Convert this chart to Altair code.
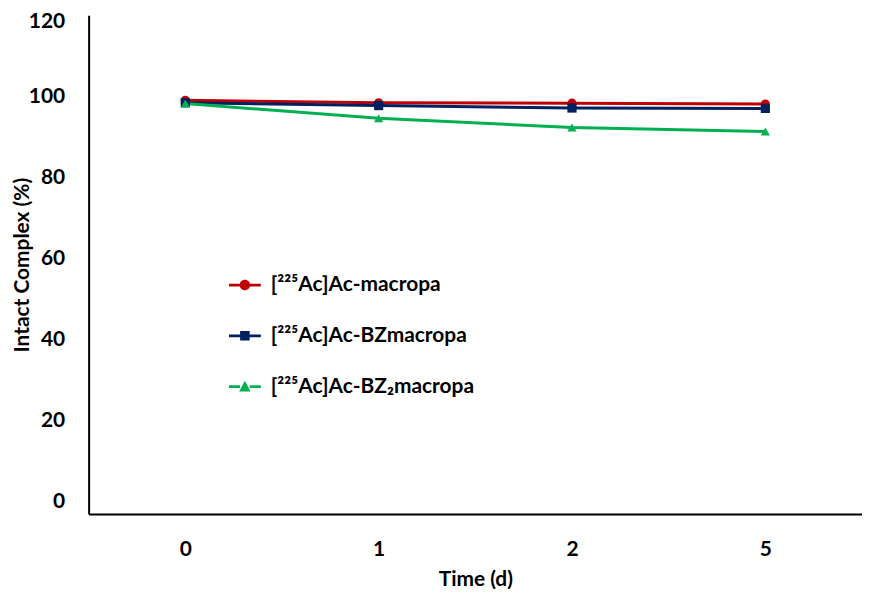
import altair as alt
import pandas as pd

times = ["0", "1", "2", "5"]
series = ["[\u00b2\u00b2\u2075Ac]Ac-macropa", "[\u00b2\u00b2\u2075Ac]Ac-BZmacropa", "[\u00b2\u00b2\u2075Ac]Ac-BZ\u2082macropa"]
macropa = [99.0, 98.4, 98.3, 98.1]
bzmacropa = [98.4, 97.7, 97.1, 97.0]
bz2macropa = [98.2, 94.6, 92.3, 91.3]
colors = ["#C00000", "#002060", "#00B050"]
shapes = ["circle", "square", "triangle-up"]
legend_shapes = [
    "M-1,-0.09H-0.3V0.09H-1Z M0.3,-0.09H1V0.09H0.3Z M0.33,0A0.33,0.33,0,1,1,-0.33,0A0.33,0.33,0,1,1,0.33,0Z",
    "M-1,-0.09H-0.3V0.09H-1Z M0.3,-0.09H1V0.09H0.3Z M-0.3,-0.3H0.3V0.3H-0.3Z",
    "M-1,-0.09H-0.3V0.09H-1Z M0.3,-0.09H1V0.09H0.3Z M0,-0.36L0.36,0.3H-0.36Z",
]

rows = []
for name, vals in zip(series, [macropa, bzmacropa, bz2macropa]):
    for t, v in zip(times, vals):
        rows.append({"series": name, "time": t, "value": v})
df = pd.DataFrame(rows)

FONT = "Lato"

x_enc = alt.X(
    "time:O", sort=times, scale=alt.Scale(type="point", padding=0.5),
    axis=alt.Axis(title="Time (d)", labelAngle=0, labelPadding=25, titlePadding=9),
)
y_enc = alt.Y(
    "value:Q", scale=alt.Scale(domain=[-3.19, 120], nice=False, zero=False),
    axis=alt.Axis(title="Intact Complex (%)", values=[0, 20, 40, 60, 80, 100, 120],
                  labelPadding=24, titleX=-66, titleBaseline="middle",
                  labelOffset={"condition": {"test": "datum.value == 120", "value": 6}, "value": 0}),
)
color_scale = alt.Scale(domain=series, range=colors)

lines = alt.Chart(df).mark_line(strokeWidth=3).encode(
    x=x_enc, y=y_enc,
    color=alt.Color("series:N", scale=color_scale, legend=None),
)
points = alt.Chart(df).mark_point(filled=True, size=85, opacity=1).encode(
    x=x_enc, y=y_enc,
    color=alt.Color("series:N", scale=color_scale, legend=None),
    shape=alt.Shape("series:N", scale=alt.Scale(domain=series, range=shapes), legend=None),
)
legend_cfg = alt.Legend(
    title=None, orient="none", legendX=140, legendY=254,
    symbolSize=1024, rowPadding=24, labelOffset=9,
    labelFont=FONT, labelFontSize=21, labelFontWeight="bold", labelColor="black",
    labelLimit=0,
)
legend_layer = alt.Chart(df).transform_filter("false").mark_point(filled=True, opacity=1).encode(
    color=alt.Color("series:N", scale=alt.Scale(domain=series, range=colors), legend=legend_cfg),
    shape=alt.Shape("series:N", scale=alt.Scale(domain=series, range=legend_shapes), legend=legend_cfg),
)

chart = alt.layer(lines, points, legend_layer).resolve_scale(
    color="independent", shape="independent"
).properties(
    width=777, height=501,
    autosize=alt.AutoSizeParams(type="none"),
    padding={"left": 81, "top": 6, "right": 0, "bottom": 80},
).configure_view(stroke=None).configure_axis(
    domainColor="black", domainWidth=2, ticks=False, grid=False,
    labelFont=FONT, labelFontSize=21, labelFontWeight="bold", labelColor="black",
    titleFont=FONT, titleFontSize=21, titleFontWeight="bold", titleColor="black",
)

chart.save("out.html", embed_options={"renderer": "svg", "actions": False})
